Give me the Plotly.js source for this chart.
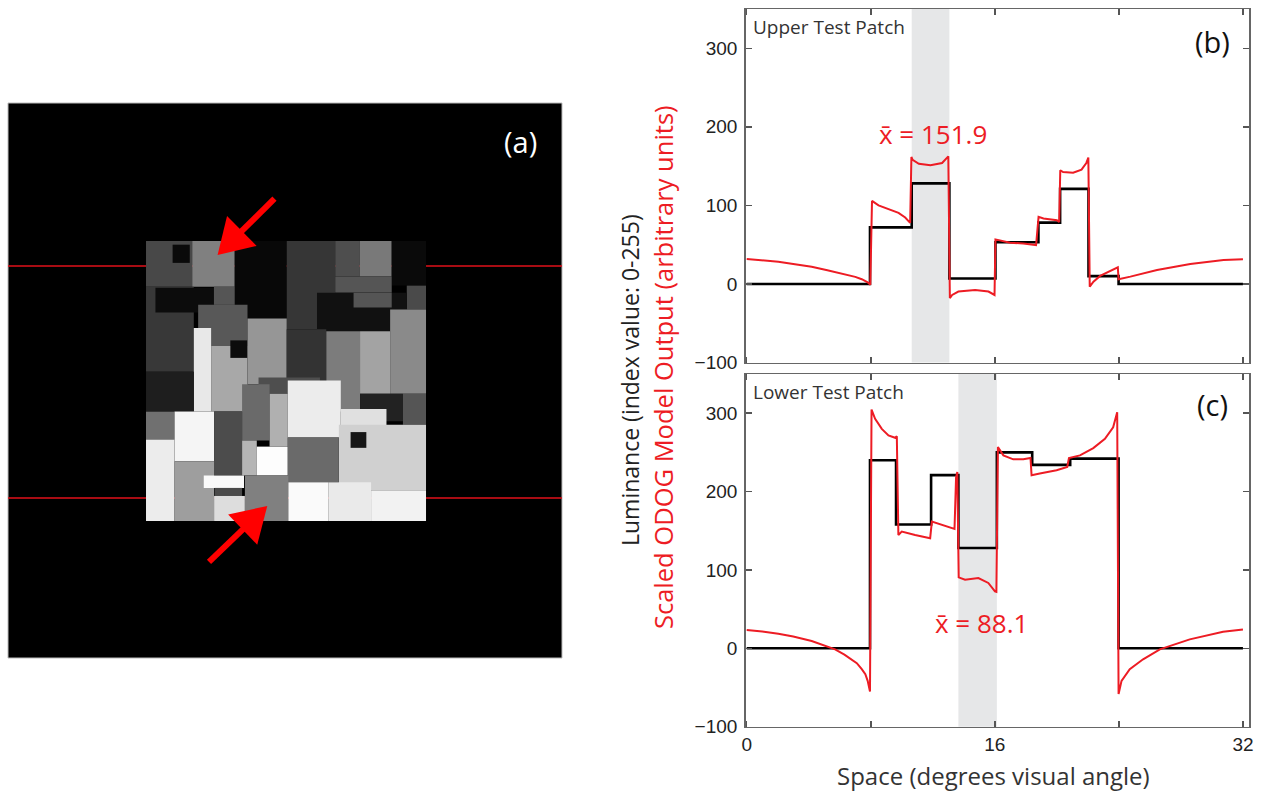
<!DOCTYPE html>
<html>
<head>
<meta charset="utf-8">
<script src="https://cdn.plot.ly/plotly-3.0.1.min.js"></script>
<style>html,body{margin:0;padding:0;background:#fff;}#chart{width:1261px;height:797px;}</style>
</head>
<body>
<div id="chart"></div>
<script>
// ---------- Data ----------
// Luminance profiles (step functions): breakpoints (deg) and levels (0-255)
const upperStepX = [0, 7.95, 10.64, 13.07, 16.04, 18.81, 20.21, 22.04, 23.98, 32];
const upperLum   = [0, 72, 128, 7, 53, 78, 121, 10, 0, 0];
const lowerStepX = [0, 7.95, 9.63, 11.89, 13.65, 16.13, 18.41, 20.86, 23.98, 32];
const lowerLum   = [0, 240, 158, 221, 128, 250, 234, 242, 0, 0];

// Scaled ODOG model output
const upperOdogX = [0, 1, 2.04, 3, 4.19, 5.2, 6.34, 7.0, 7.42, 7.8, 7.97, 8.08, 8.5, 9.14, 9.79, 10.22, 10.54, 10.62, 10.7, 11.1, 11.85, 12.6, 13.0, 13.1, 13.25, 13.65, 14.73, 15.59, 15.98, 16.04, 16.23, 16.98, 17.84, 18.66, 18.82, 18.9, 19.14, 20.0, 20.15, 20.22, 20.4, 21.05, 21.59, 21.9, 22.03, 22.12, 22.36, 22.79, 23.44, 23.93, 23.98, 24.74, 26.46, 28.6, 30.75, 32];
const upperOdogY = [31.7, 30.5, 28.3, 25.5, 22, 17.5, 12.7, 9, 6, 2, -1, 105.7, 100, 95, 90.5, 84.6, 77.8, 161.6, 158, 153, 151, 154, 162.4, -18, -14, -9.7, -7.6, -9.7, -14, 56.7, 55.8, 52.4, 51.6, 49.5, 85.4, 85, 83.4, 81.2, 79, 144.7, 142.5, 141.6, 145.5, 154, 160.8, -3.4, 2.9, 10.2, 16.9, 21.2, 6, 9.3, 17.8, 25.4, 30.5, 31.3];
const lowerOdogX = [0, 1, 2.04, 3, 4.19, 5.0, 5.7, 6.3, 6.77, 7.1, 7.42, 7.65, 7.8, 7.95, 8.05, 8.28, 8.71, 9.14, 9.57, 9.68, 9.78, 10.0, 10.86, 11.83, 11.94, 12.8, 13.4, 13.5, 13.58, 13.67, 14.08, 14.94, 15.58, 16.01, 16.1, 16.2, 16.55, 17.19, 17.84, 18.3, 18.37, 18.9, 19.98, 20.67, 20.78, 21.49, 22.35, 23.1, 23.63, 23.89, 23.98, 24.17, 24.7, 25.56, 26.64, 28.57, 30.72, 32];
const lowerOdogY = [23.3, 21.5, 18.6, 15, 9.3, 4, -1.3, -8, -14, -19, -26.6, -33, -41.5, -55, 304.6, 292.7, 280, 271.6, 268.6, 270.7, 144.7, 148.9, 144.7, 140.5, 161.6, 156.5, 152.3, 218, 225, 90.5, 87.6, 89.7, 83.4, 72.7, 72, 256.7, 246.2, 241.1, 241.1, 242.8, 220.8, 223, 227.2, 231.4, 242.8, 246.2, 255.5, 267.4, 282.1, 301.1, -58.4, -41.5, -26.6, -14, -1.3, 11.4, 21.2, 24.1];

// Test patch spans (deg)
const upperPatch = [10.64, 13.07];
const lowerPatch = [13.65, 16.13];
const upperMean = "151.9";
const lowerMean = "88.1";

// Stimulus (a): patch-local coordinates (deg, 0..16), [x0, x1, y0, y1, gray]
const stimRects = [
  [0,2.64,0,2.61,72],[1.52,2.5,0.21,1.25,10],[2.64,5.07,0,2.61,128],[5.07,8.04,0,4.43,8],
  [8.04,10.81,0,5.05,54],[10.81,12.21,0,2.03,78],[12.21,14.04,0,2.03,121],[14.04,16,0,2.55,10],
  [10.81,14.04,2.03,2.96,85],[14.9,16,2.55,3.92,74],[9.77,14.9,2.96,5.16,17],[11.86,14.04,2.96,3.8,85],
  [0,2.73,2.61,7.47,56],[0.54,3.88,2.67,4.09,12],[3.88,5.07,2.61,3.65,85],[2.98,5.8,3.65,6.0,88],
  [2.73,3.72,4.97,9.75,232],[3.72,5.8,6.0,9.75,168],[4.82,5.8,5.68,6.68,12],[5.8,8.04,4.43,8.18,150],
  [8.04,10.3,5.05,8.1,51],[10.3,12.23,5.16,9.75,124],[12.23,13.95,5.16,8.73,163],[13.95,16,3.92,8.73,138],
  [0,2.73,7.47,9.75,30],[6.43,9.94,7.8,8.73,78],[5.49,7.06,8.18,11.4,106],[7.06,8.1,8.73,11.75,176],
  [8.1,11.13,7.97,11.23,236],[12.23,14.68,8.73,10.3,34],[14.68,16,8.73,10.5,85],[11.13,13.74,9.6,10.6,224],
  [11.02,16,10.5,14.24,208],[11.69,12.59,10.92,11.82,22],[0,1.63,9.75,11.34,112],[1.63,3.89,9.75,12.59,245],
  [3.89,5.49,9.75,13.4,76],[0,1.63,11.34,16,236],[1.63,3.89,12.59,16,158],[5.49,6.33,11.4,13.4,181],
  [6.33,8.1,11.75,13.4,253],[8.1,11.02,11.23,13.78,106],[3.3,5.6,13.4,14.11,250],[3.92,5.49,14.11,14.57,74],
  [3.89,5.65,14.57,16,221],[5.65,8.13,13.4,16,128],[8.13,10.41,13.78,16,250],[10.41,12.86,13.78,16,234],
  [12.86,16,14.24,16,242]
];
const scanRows = [1.43, 14.68];           // rows of the two profiles
// arrows: [tailX, tailY, tipX, tipY] in patch-local deg
const arrowData = [[7.34, -2.42, 4.09, 0.8], [3.6, 18.34, 6.93, 15.14]];
const arrowHeadLen = 1.95, arrowHeadHalfW = 1.2;

const xTickVals = [0, 8, 16, 24, 32];
const xTickText = ['0', '', '16', '', '32'];
const yTickVals = [-100, 0, 100, 200, 300];

// ---------- Style ----------
const RED = '#ed1c24';
const W = 1261, H = 797;
const px = v => v / W, py = v => 1 - v / H;
const tickFont = {family: 'Liberation Sans, Arial, sans-serif', size: 19, color: '#222'};
const labFont = 'Open Sans, sans-serif';

function lineAxis(extra) {
  return Object.assign({
    showline: true, linecolor: '#666', linewidth: 1.5, mirror: 'ticks',
    ticks: 'inside', ticklen: 6, tickwidth: 1.5, tickcolor: '#555', ticklabelstandoff: 3,
    showgrid: false, zeroline: false, fixedrange: true, tickfont: tickFont
  }, extra);
}

const traces = [
  {x: upperStepX, y: upperLum, xaxis: 'x', yaxis: 'y', mode: 'lines', line: {color: '#000', width: 2.6, shape: 'hv'}, hoverinfo: 'skip'},
  {x: upperOdogX, y: upperOdogY, xaxis: 'x', yaxis: 'y', mode: 'lines', line: {color: RED, width: 2}, hoverinfo: 'skip'},
  {x: lowerStepX, y: lowerLum, xaxis: 'x2', yaxis: 'y2', mode: 'lines', line: {color: '#000', width: 2.6, shape: 'hv'}, hoverinfo: 'skip'},
  {x: lowerOdogX, y: lowerOdogY, xaxis: 'x2', yaxis: 'y2', mode: 'lines', line: {color: RED, width: 2}, hoverinfo: 'skip'},
  {x: [], y: [], xaxis: 'x3', yaxis: 'y3', mode: 'markers', hoverinfo: 'skip'}
];

const shapes = [];
// test patch shading
shapes.push({type: 'rect', xref: 'x', yref: 'y domain', x0: upperPatch[0], x1: upperPatch[1], y0: 0, y1: 1, fillcolor: '#e6e7e8', line: {width: 0}, layer: 'below'});
shapes.push({type: 'rect', xref: 'x2', yref: 'y2 domain', x0: lowerPatch[0], x1: lowerPatch[1], y0: 0, y1: 1, fillcolor: '#e6e7e8', line: {width: 0}, layer: 'below'});
// stimulus background
shapes.push({type: 'rect', xref: 'x3 domain', yref: 'y3 domain', x0: 0, x1: 1, y0: 0, y1: 1, fillcolor: '#000', line: {color: '#bbb', width: 1}, layer: 'below'});
stimRects.forEach(r => {
  const g = r[4];
  shapes.push({type: 'rect', xref: 'x3', yref: 'y3', x0: r[0], x1: r[1], y0: r[2], y1: r[3],
    fillcolor: `rgb(${g},${g},${g})`, line: {width: 0}, layer: 'below'});
});
scanRows.forEach(yv => {
  shapes.push({type: 'line', xref: 'x3 domain', yref: 'y3', x0: 0, x1: 1, y0: yv, y1: yv, line: {color: '#e0101a', width: 1.5}, layer: 'below'});
});
// arrows (shaft + triangular head)
arrowData.forEach(a => {
  const [tx, ty, hx, hy] = a;
  const dx = hx - tx, dy = hy - ty, L = Math.hypot(dx, dy);
  const ux = dx / L, uy = dy / L;
  const bx = hx - ux * arrowHeadLen, by = hy - uy * arrowHeadLen;
  shapes.push({type: 'line', xref: 'x3', yref: 'y3', x0: tx, y0: ty, x1: bx + ux * 0.2, y1: by + uy * 0.2, line: {color: '#ff0000', width: 6}, layer: 'below'});
  const p1 = [bx - uy * arrowHeadHalfW, by + ux * arrowHeadHalfW];
  const p2 = [bx + uy * arrowHeadHalfW, by - ux * arrowHeadHalfW];
  shapes.push({type: 'path', xref: 'x3', yref: 'y3', path: `M${hx},${hy} L${p1[0]},${p1[1]} L${p2[0]},${p2[1]} Z`, fillcolor: '#ff0000', line: {width: 0}, layer: 'below'});
});

const annotations = [
  {xref: 'paper', yref: 'paper', x: px(751), y: py(27), xanchor: 'left', yanchor: 'middle', text: 'Upper Test Patch', showarrow: false, font: {family: labFont, size: 19, color: '#333'}},
  {xref: 'paper', yref: 'paper', x: px(751), y: py(392), xanchor: 'left', yanchor: 'middle', text: 'Lower Test Patch', showarrow: false, font: {family: labFont, size: 19, color: '#333'}},
  {xref: 'paper', yref: 'paper', x: px(1212), y: py(41), xanchor: 'center', yanchor: 'middle', text: '(b)', showarrow: false, font: {family: labFont, size: 29, color: '#111'}},
  {xref: 'paper', yref: 'paper', x: px(1212), y: py(404), xanchor: 'center', yanchor: 'middle', text: '(c)', showarrow: false, font: {family: labFont, size: 29, color: '#111'}},
  {xref: 'paper', yref: 'paper', x: px(520), y: py(141), xanchor: 'center', yanchor: 'middle', text: '(a)', showarrow: false, font: {family: labFont, size: 29, color: '#fff'}},
  {xref: 'paper', yref: 'paper', x: px(933), y: py(134), xanchor: 'center', yanchor: 'middle', text: 'x\u0304 = ' + upperMean, showarrow: false, font: {family: labFont, size: 26, color: RED}},
  {xref: 'paper', yref: 'paper', x: px(981), y: py(623), xanchor: 'center', yanchor: 'middle', text: 'x\u0304 = ' + lowerMean, showarrow: false, font: {family: labFont, size: 26, color: RED}},
  {xref: 'paper', yref: 'paper', x: px(630), y: py(380), xanchor: 'center', yanchor: 'middle', textangle: -90, text: 'Luminance (index value: 0-255)', showarrow: false, font: {family: labFont, size: 23, color: '#222'}},
  {xref: 'paper', yref: 'paper', x: px(663), y: py(367), xanchor: 'center', yanchor: 'middle', textangle: -90, text: 'Scaled ODOG Model Output (arbitrary units)', showarrow: false, font: {family: labFont, size: 25.5, color: RED}},
  {xref: 'paper', yref: 'paper', x: px(993), y: py(775), xanchor: 'center', yanchor: 'middle', text: 'Space (degrees visual angle)', showarrow: false, font: {family: labFont, size: 24, color: '#333'}}
];

const xDom = [px(745.7), px(1249)];
const layout = {
  width: W, height: H, margin: {l: 0, r: 0, t: 0, b: 0},
  paper_bgcolor: '#fff', plot_bgcolor: 'rgba(0,0,0,0)', showlegend: false,
  xaxis: lineAxis({domain: xDom, range: [-0.065, 32.39], anchor: 'y', tickvals: xTickVals, showticklabels: false}),
  yaxis: lineAxis({domain: [py(362.5), py(9)], range: [-100, 350], anchor: 'x', tickvals: yTickVals}),
  xaxis2: lineAxis({domain: xDom, range: [-0.065, 32.39], anchor: 'y2', tickvals: xTickVals, ticktext: xTickText, ticklabelstandoff: 0}),
  yaxis2: lineAxis({domain: [py(726.7), py(374)], range: [-100, 350], anchor: 'x2', tickvals: yTickVals}),
  xaxis3: {domain: [px(8), px(562)], range: [-7.886, 23.77], anchor: 'y3', visible: false, fixedrange: true},
  yaxis3: {domain: [py(658), py(103)], range: [23.83, -7.886], anchor: 'x3', visible: false, fixedrange: true},
  shapes: shapes, annotations: annotations
};

Plotly.newPlot('chart', traces, layout, {staticPlot: true, displayModeBar: false});
</script>
</body>
</html>
